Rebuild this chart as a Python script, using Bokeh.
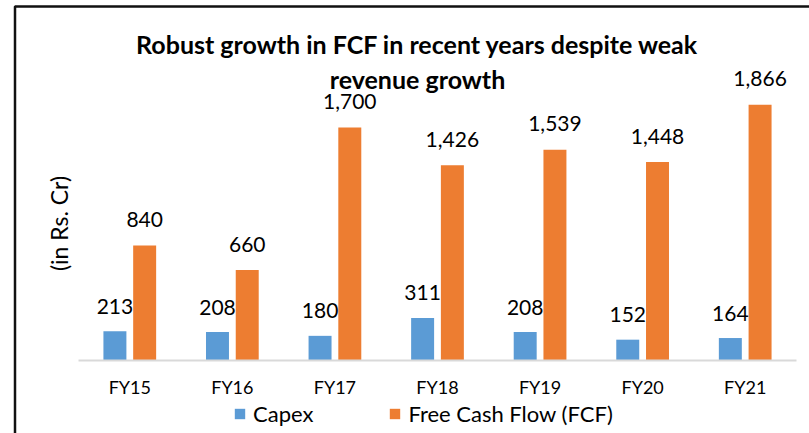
import math
from bokeh.plotting import figure
from bokeh.models import (ColumnDataSource, Range1d, BoxAnnotation, Legend,
                          LegendItem, FixedTicker)
from bokeh.transform import dodge
from bokeh.core.properties import value
from bokeh.embed import file_html
from bokeh.resources import INLINE

years = ["FY15", "FY16", "FY17", "FY18", "FY19", "FY20", "FY21"]
capex = [213, 208, 180, 311, 208, 152, 164]
fcf = [840, 660, 1700, 1426, 1539, 1448, 1866]
title_line1 = "Robust growth in FCF in recent years despite weak"
title_line2 = "revenue growth"
y_label = "(in Rs. Cr)"
series_names = ["Capex", "Free Cash Flow (FCF)"]

BLUE = "#5B9BD5"
ORANGE = "#ED7D31"
FONT = "Lato"

W, H = 809, 433
# layout: category band width (px) and placement of frame
CAT_PX = 102.57
X0_PX = 78          # page x where first category starts
Y0_PX = 360         # page y of the value 0 baseline
PX_PER_UNIT = 0.137
FRAME_L, FRAME_T = 12, 4


def xd(px):
    return (px - X0_PX) / CAT_PX


def yd(py):
    return (Y0_PX - py) / PX_PER_UNIT


xpos = [i + 0.5 for i in range(len(years))]

src = ColumnDataSource(dict(
    x=xpos, year=years, capex=capex, fcf=fcf,
    capex_lbl=[f"{v:,}" for v in capex],
    fcf_lbl=[f"{v:,}" for v in fcf],
))

p = figure(x_range=Range1d(xd(FRAME_L), xd(W)), y_range=Range1d(yd(H), yd(FRAME_T)),
           width=W, height=H, output_backend="svg", toolbar_location=None,
           min_border_left=FRAME_L, min_border_right=0, min_border_top=FRAME_T,
           min_border_bottom=0)
p.outline_line_color = None
p.xgrid.visible = False
p.ygrid.visible = False
p.yaxis.visible = False

off = 0.145
bw = 0.224
r1 = p.vbar(x=dodge("x", -off), top="capex", width=bw,
            source=src, fill_color=BLUE, line_color=None)
r2 = p.vbar(x=dodge("x", off), top="fcf", width=bw,
            source=src, fill_color=ORANGE, line_color=None)

p.text(x=dodge("x", -off), y="capex", text="capex_lbl",
       source=src, y_offset=-25, text_align="center", text_baseline="alphabetic",
       text_font=value(FONT), text_font_size="21px", text_color="black")
p.text(x=dodge("x", off), y="fcf", text="fcf_lbl",
       source=src, y_offset=-26, text_align="center", text_baseline="alphabetic",
       text_font=value(FONT), text_font_size="21px", text_color="black")

# title (two lines)
p.text(x=[xd(417), xd(417)], y=[yd(43), yd(78)], text=[title_line1, title_line2],
       text_align="center", text_baseline="alphabetic", text_font=value(FONT),
       text_font_style="bold", text_font_size="25px", text_color="black")
# y-axis title
p.text(x=[xd(58)], y=[yd(223)], text=[y_label], angle=math.pi / 2,
       text_align="center", text_baseline="middle", text_font=value(FONT),
       text_font_size="23px", text_color="black")

# chart border (left and top edges visible)
p.add_layout(BoxAnnotation(left=xd(14.5), right=xd(W + 50), top=yd(6), bottom=yd(H + 50),
                           fill_alpha=0, line_color="#111111", line_alpha=1.0,
                           line_width=2.5))

ax = p.xaxis[0]
ax.fixed_location = 0
ax.bounds = (0, len(years))
ax.ticker = FixedTicker(ticks=xpos)
ax.major_label_overrides = {x: y for x, y in zip(xpos, years)}
ax.axis_line_color = "#D9D9D9"
ax.axis_line_width = 2
ax.major_tick_line_color = None
ax.minor_tick_line_color = None
ax.major_tick_out = 0
ax.major_tick_in = 0
ax.major_label_standoff = 15
ax.major_label_text_font = FONT
ax.major_label_text_font_size = "18px"
ax.major_label_text_color = "black"

legend = Legend(items=[LegendItem(label=series_names[0], renderers=[r1]),
                       LegendItem(label=series_names[1], renderers=[r2])],
                orientation="horizontal", location=(233 - FRAME_L, 6),
                glyph_width=13, glyph_height=13, label_standoff=7, spacing=75,
                padding=0, margin=0, border_line_color=None,
                background_fill_alpha=0, label_text_font=FONT,
                label_text_font_size="22px", label_text_color="black")
p.add_layout(legend)

open("out.html", "w").write(file_html(p, INLINE))
